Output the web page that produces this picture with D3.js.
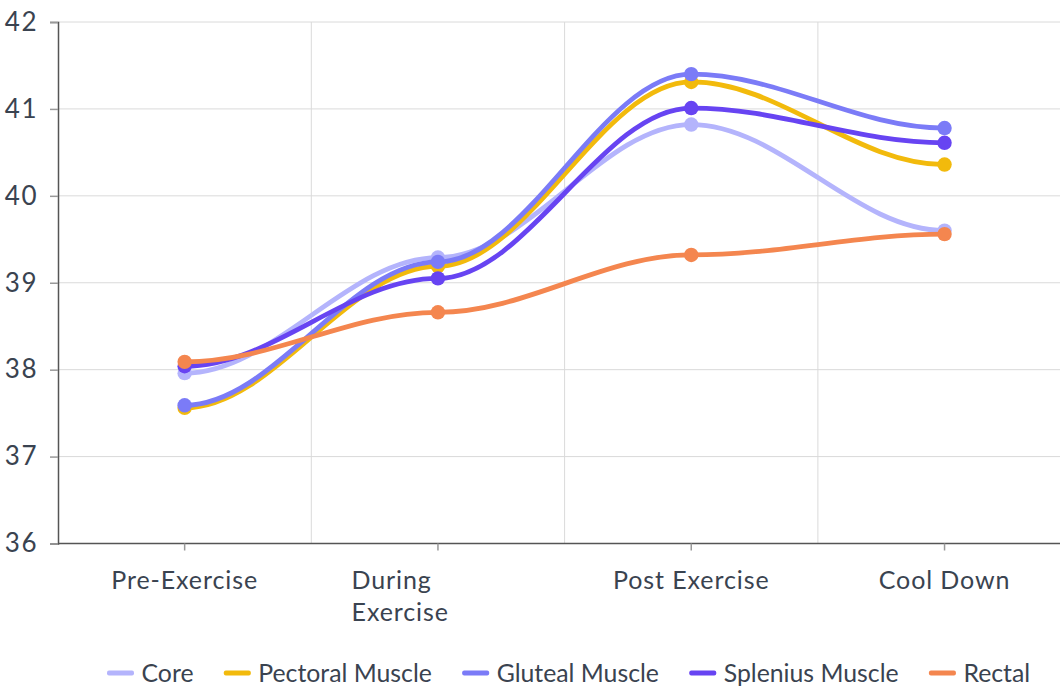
<!DOCTYPE html>
<html><head><meta charset="utf-8">
<script src="https://cdn.jsdelivr.net/npm/d3@7"></script>
<style>
html,body{margin:0;padding:0;background:#fff;overflow:hidden}
svg{display:block;font-family:Lato,"Open Sans",sans-serif}
</style></head>
<body>
<svg id="c" width="1060" height="688"></svg>
<script>
const categories = ["Pre-Exercise", "During Exercise", "Post Exercise", "Cool Down"];
const seriesNames = ["Core", "Pectoral Muscle", "Gluteal Muscle", "Splenius Muscle", "Rectal"];
const seriesColors = ["#b4b4fc", "#f2ba0c", "#7b7bf7", "#6744f2", "#f4864f"];
const core = [37.96, 39.29, 40.82, 39.60];
const pectoral = [37.56, 39.19, 41.31, 40.36];
const gluteal = [37.59, 39.24, 41.40, 40.78];
const splenius = [38.04, 39.05, 41.01, 40.61];
const rectal = [38.09, 38.66, 39.32, 39.56];
const yTicks = [36, 37, 38, 39, 40, 41, 42];

const seriesValues = [core, pectoral, gluteal, splenius, rectal];
const svg = d3.select("#c");
const mLeft = 58, mTop = 22, mBottom = 543.5, bandW = 253.3;
const x = d3.scaleBand().domain(categories).range([mLeft, mLeft + bandW * categories.length]);
const y = d3.scaleLinear().domain([36, 42]).range([mBottom, mTop]);
const textColor = "#3a4350";

// smooth curve: horizontal tangents, control points at 35% of segment width
function smoothH(context) {
  return {
    areaStart() {}, areaEnd() {},
    lineStart() { this._p = []; },
    point(px, py) { this._p.push([+px, +py]); },
    lineEnd() {
      const p = this._p;
      if (!p.length) return;
      context.moveTo(p[0][0], p[0][1]);
      for (let i = 1; i < p.length; i++) {
        const [x0, y0] = p[i - 1], [x1, y1] = p[i];
        const k = (x1 - x0) * 0.35;
        context.bezierCurveTo(x0 + k, y0, x1 - k, y1, x1, y1);
      }
    }
  };
}

// gridlines
svg.append("g").selectAll("line").data(yTicks.slice(1)).join("line")
  .attr("x1", mLeft).attr("x2", 1060).attr("y1", d => y(d)).attr("y2", d => y(d))
  .attr("stroke", "#dadada").attr("stroke-width", 1);
svg.append("g").selectAll("line").data(categories.slice(1)).join("line")
  .attr("x1", d => x(d)).attr("x2", d => x(d)).attr("y1", mTop).attr("y2", mBottom)
  .attr("stroke", "#dadada").attr("stroke-width", 1);

// y axis
const yAxis = svg.append("g").attr("transform", `translate(${mLeft},0)`)
  .call(d3.axisLeft(y).tickValues(yTicks).tickSize(8).tickPadding(12).tickFormat(d3.format("d")));
yAxis.select(".domain").attr("stroke", "#555").attr("stroke-width", 1.5);
yAxis.selectAll(".tick line").attr("stroke", "#999").attr("stroke-width", 1.5);
yAxis.selectAll(".tick text").attr("fill", textColor).attr("font-size", 26)
  .attr("letter-spacing", 1.5).attr("font-family", "Lato, sans-serif");

// x axis
const xAxis = svg.append("g").attr("transform", `translate(0,${mBottom})`)
  .call(d3.axisBottom(x).tickSize(7).tickPadding(0).tickFormat(""));
xAxis.select(".domain").attr("stroke", "#555").attr("stroke-width", 1.5).attr("d", `M${mLeft},0H1060`);
xAxis.selectAll(".tick line").attr("stroke", "#999").attr("stroke-width", 1.5);
xAxis.selectAll(".tick").each(function(d) {
  const g = d3.select(this);
  const t = g.append("text").attr("fill", textColor).attr("font-size", 25).attr("letter-spacing", 0.9)
    .attr("font-family", "Lato, sans-serif").attr("y", 45).attr("text-anchor", "start").text(d);
  const full = t.node().getComputedTextLength();
  if (full > 172) {
    const words = d.split(" ");
    t.text(null);
    words.forEach((w, i) => t.append("tspan").attr("x", -full / 2 + 6).attr("y", 45 + i * 32.5).text(w));
  } else {
    t.attr("x", -full / 2);
  }
});

// lines
const line = d3.line()
  .x((d, i) => x(categories[i]) + x.bandwidth() / 2)
  .y(d => y(d))
  .curve(smoothH);
const plot = svg.append("g");
seriesValues.forEach((vals, si) => {
  plot.append("path").attr("d", line(vals)).attr("fill", "none")
    .attr("stroke", seriesColors[si]).attr("stroke-width", 4.8).attr("stroke-linecap", "round");
  plot.append("g").selectAll("circle").data(vals).join("circle")
    .attr("cx", (d, i) => x(categories[i]) + x.bandwidth() / 2)
    .attr("cy", d => y(d)).attr("r", 7.2).attr("fill", seriesColors[si]);
});

// legend
const leg = svg.append("g").attr("transform", "translate(0,673)");
let lx = 107;
seriesNames.forEach((n, i) => {
  leg.append("rect").attr("x", lx).attr("y", -2.5).attr("width", 27).attr("height", 5)
    .attr("rx", 2).attr("fill", seriesColors[i]);
  const t = leg.append("text").attr("x", lx + 34.5).attr("y", 9).attr("fill", textColor)
    .attr("font-size", 24.8).attr("font-family", "Lato, sans-serif").text(n);
  lx += 34.5 + t.node().getComputedTextLength() + 30.3;
});
</script>
</body></html>
